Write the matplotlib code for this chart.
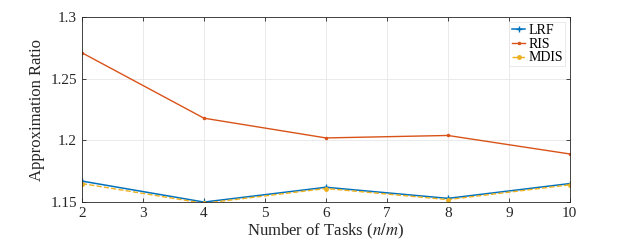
import matplotlib
matplotlib.use("Agg")
import matplotlib.pyplot as plt

tasks = [2, 4, 6, 8, 10]
lrf = [1.167, 1.150, 1.162, 1.153, 1.165]
ris = [1.271, 1.218, 1.202, 1.204, 1.189]
mdis = [1.165, 1.149, 1.161, 1.152, 1.164]

C_LRF = "#0072BD"
C_RIS = "#D95319"
C_MDIS = "#EDB120"

plt.rcParams["font.family"] = ["Liberation Serif", "DejaVu Serif"]
plt.rcParams["mathtext.fontset"] = "stix"

fig = plt.figure(figsize=(6.31, 2.40), dpi=100)
ax = fig.add_axes([0.130, 0.158, 0.773, 0.771])

ax.plot(tasks, lrf, color=C_LRF, linewidth=1.1, marker="+", markersize=4,
        markeredgewidth=1.0, label="LRF")
ax.plot(tasks, ris, color=C_RIS, linewidth=1.0, marker=".", markersize=3,
        label="RIS")
ax.plot(tasks, mdis, color=C_MDIS, linewidth=1.0, linestyle="--",
        marker="o", markersize=2.5, label="MDIS")

ax.set_xlim(2, 10)
ax.set_ylim(1.15, 1.3)
ax.set_xticks(range(2, 11))
ax.set_yticks([1.15, 1.2, 1.25, 1.3])
ax.set_yticklabels(["1.15", "1.2", "1.25", "1.3"])
ax.tick_params(direction="in", labelsize=11, length=3, width=0.6,
               colors="#262626", top=True, right=True)
ax.grid(True, color="#E6E6E6", linewidth=0.6)
ax.set_axisbelow(True)
for s in ax.spines.values():
    s.set_color("#262626")
    s.set_linewidth(0.6)

ax.set_xlabel("Number of Tasks ($n/m$)", fontsize=12, color="#262626",
              labelpad=1)
ax.set_ylabel("Approximation Ratio", fontsize=12, color="#262626",
              labelpad=4)

leg = ax.legend(loc="upper right", fontsize=10, frameon=True, fancybox=False,
                handlelength=1.0, handletextpad=0.2, borderpad=0.15,
                labelspacing=0.05, borderaxespad=0.35)
leg.get_frame().set_edgecolor("#E0E0E0")
leg.get_frame().set_linewidth(0.6)

fig.savefig("out.png", dpi=100)
